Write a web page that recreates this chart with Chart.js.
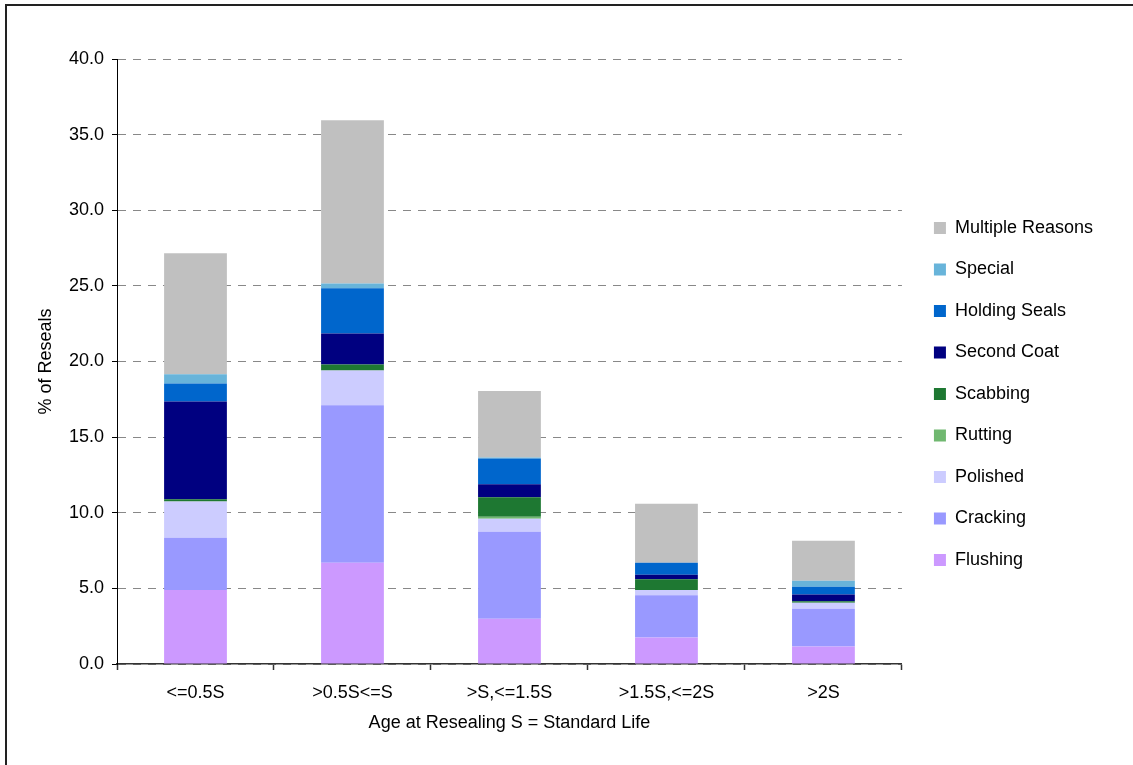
<!DOCTYPE html>
<html>
<head>
<meta charset="utf-8">
<script src="https://cdn.jsdelivr.net/npm/chart.js@4/dist/chart.umd.min.js"></script>
<style>
    html, body { margin: 0; padding: 0; background: #fff; overflow: hidden; }
    #wrap { position: relative; width: 1133px; height: 765px; }
    #frame { position: absolute; left: 5px; top: 4px; width: 1300px; height: 900px;
             border-left: 2px solid #222; border-top: 2px solid #222; pointer-events: none; }
</style>
</head>
<body>
<div id="wrap">
    <canvas id="resealChart" width="1133" height="765"></canvas>
    <div id="frame"></div>
</div>
<script>
// age bands
const categories = ["<=0.5S", ">0.5S<=S", ">S,<=1.5S", ">1.5S,<=2S", ">2S"];

// % of reseals per reason (bottom of the stack first)
const flushing        = [4.9, 6.7, 3.0, 1.75, 1.15];
const cracking        = [3.45, 10.4, 5.75, 2.8, 2.5];
const polished        = [2.4, 2.3, 0.85, 0.35, 0.4];
const rutting         = [0, 0, 0.13, 0, 0];
const scabbing        = [0.15, 0.4, 1.3, 0.7, 0.1];
const secondCoat      = [6.45, 2.05, 0.85, 0.3, 0.45];
const holdingSeals    = [1.2, 3.0, 1.7, 0.8, 0.5];
const special         = [0.6, 0.3, 0.07, 0, 0.4];
const multipleReasons = [8.0, 10.8, 4.4, 3.9, 2.65];

const yTicks = [0, 5, 10, 15, 20, 25, 30, 35, 40];

const font = "'Liberation Sans', Arial, sans-serif";

function series(label, data, color) {
    return {
        label: label,
        data: data,
        backgroundColor: color,
        borderWidth: 0,
        yAxisID: "y",
        categoryPercentage: 1.0,
        barPercentage: 0.4
    };
}

const ctx = document.getElementById("resealChart").getContext("2d");

new Chart(ctx, {
    type: "bar",
    data: {
        labels: categories,
        datasets: [
            series("Flushing", flushing, "#CC99FF"),
            series("Cracking", cracking, "#9999FF"),
            series("Polished", polished, "#CCCCFF"),
            series("Rutting", rutting, "#70B870"),
            series("Scabbing", scabbing, "#1E7832"),
            series("Second Coat", secondCoat, "#000080"),
            series("Holding Seals", holdingSeals, "#0066CC"),
            series("Special", special, "#68B4DA"),
            series("Multiple Reasons", multipleReasons, "#C0C0C0")
        ]
    },
    options: {
        responsive: false,
        maintainAspectRatio: false,
        animation: false,
        layout: {
            padding: { left: 20, top: 59, right: 30, bottom: 36 }
        },
        plugins: {
            legend: {
                position: "right",
                reverse: true,
                maxWidth: 400,
                labels: {
                    boxWidth: 12,
                    boxHeight: 12,
                    padding: 23.5,
                    color: "#000",
                    font: { family: font, size: 18 }
                }
            },
            tooltip: { enabled: false }
        },
        scales: {
            x: {
                stacked: true,
                grid: {
                    offset: true,
                    drawOnChartArea: false,
                    drawTicks: true,
                    tickLength: 6,
                    tickColor: "#333",
                    tickWidth: 1.5
                },
                border: { color: "#333", width: 1.5 },
                ticks: {
                    color: "#000",
                    padding: 12,
                    maxRotation: 0,
                    font: { family: font, size: 18 }
                },
                title: {
                    display: true,
                    text: "Age at Resealing S = Standard Life",
                    color: "#000",
                    padding: { top: 0, bottom: -5 },
                    font: { family: font, size: 18 }
                },
                afterFit: function (scale) {
                    scale.height = 65;
                }
            },
            y: {
                stacked: true,
                min: 0,
                max: 40,
                afterBuildTicks: function (scale) {
                    scale.ticks = yTicks.map(v => ({ value: v }));
                },
                grid: {
                    color: "#888",
                    lineWidth: 1,
                    tickBorderDash: [],
                    tickColor: "#000",
                    tickLength: 5
                },
                border: { color: "#000", width: 1, dash: [8, 7] },
                ticks: {
                    color: "#000",
                    padding: 8,
                    font: { family: font, size: 18 },
                    callback: v => v.toFixed(1)
                },
                title: {
                    display: true,
                    text: "% of Reseals",
                    color: "#000",
                    padding: { top: 15, bottom: 0 },
                    font: { family: font, size: 18 }
                },
                afterFit: function (scale) {
                    scale.width = 97;
                }
            },
            // empty spacer between plot and legend
            gap: {
                type: "linear",
                position: "right",
                display: true,
                grid: { display: false },
                border: { display: false },
                ticks: { display: false },
                afterFit: function (scale) {
                    scale.width = 8.5;
                }
            }
        }
    }
});
</script>
</body>
</html>
